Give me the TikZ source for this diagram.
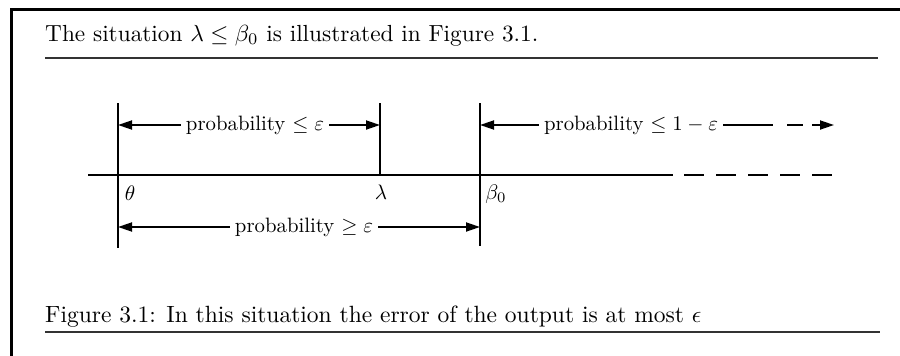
\documentclass[tikz,border=0pt]{standalone}
\usepackage{graphicx}
\usetikzlibrary{arrows.meta}
\begin{document}
\begin{tikzpicture}[x=1pt,y=-1pt,
  frameline/.style={line width=3pt,line cap=rect},
  rule/.style={line width=1.4pt,black!80},
  post/.style={line width=2.4pt},
  axisline/.style={line width=2pt},
  arr/.style={line width=1.8pt,-{Triangle[length=14pt,width=9pt]}},
  seg/.style={line width=1.8pt},
  txt/.style={inner sep=0pt,anchor=base west},
  lab/.style={inner sep=5pt},
  glab/.style={inner sep=0pt,anchor=base}]
\useasboundingbox (0,0) rectangle (900,356);
% frame
\coordinate (fTL) at (11,9);
\coordinate (fTR) at (900,9);
\coordinate (fBL) at (11,356);
\draw[frameline] (fTR) -- (fTL) -- (fBL);
% heading
\node[txt] (head) at (45,41) {\scalebox{2.33}{The situation $\lambda \leq \beta_0$ is illustrated in Figure 3.1.}};
\coordinate (hL) at (45,58);
\coordinate (hR) at (878,58);
\draw[rule] (hL) -- (hR);
% caption
\node[txt] (cap) at (45,322) {\scalebox{2.35}{Figure 3.1: In this situation the error of the output is at most $\epsilon$}};
\coordinate (cL) at (45,332);
\coordinate (cR) at (880,332);
\draw[rule] (cL) -- (cR);
% posts
\coordinate (thT) at (118,103);
\coordinate (thB) at (118,248);
\coordinate (laT) at (380,103);
\coordinate (laB) at (380,175);
\coordinate (beT) at (480,103);
\coordinate (beB) at (480,246);
\draw[post] (thT) -- (thB);
\draw[post] (laT) -- (laB);
\draw[post] (beT) -- (beB);
% axis
\coordinate (axL) at (88,175);
\coordinate (axM) at (673,175);
\coordinate (axD) at (684,175);
\coordinate (axR) at (833,175);
\draw[axisline] (axL) -- (axM);
\draw[axisline,dash pattern=on 20pt off 12pt] (axD) -- (axR);
% axis labels
\node[glab] (theta) at (130,200) {\scalebox{2.1}{$\theta$}};
\node[glab] (lambda) at (381,199) {\scalebox{2.1}{$\lambda$}};
\node[glab] (beta) at (496,199) {\scalebox{2.1}{$\beta_0$}};
% top arrow 1
\coordinate (a1L) at (118,125);
\coordinate (a1R) at (380,125);
\node[lab] (p1) at (255,125) {\scalebox{2.08}{probability $\leq \varepsilon$}};
\draw[arr] (p1) -- (a1L);
\draw[arr] (p1) -- (a1R);
% top arrow 2
\coordinate (a2L) at (480,125);
\coordinate (a2S) at (773,125);
\coordinate (a2D1) at (787,125);
\coordinate (a2D2) at (803,125);
\coordinate (a2A) at (812,125);
\coordinate (a2R) at (834,125);
\node[lab] (p2) at (631,125) {\scalebox{2.08}{probability $\leq 1-\varepsilon$}};
\draw[arr] (p2) -- (a2L);
\draw[seg] (p2) -- (a2S);
\draw[seg] (a2D1) -- (a2D2);
\draw[arr] (a2A) -- (a2R);
% bottom arrow
\coordinate (a3L) at (118,227);
\coordinate (a3R) at (480,227);
\node[lab] (p3) at (304,227) {\scalebox{2.08}{probability $\geq \varepsilon$}};
\draw[arr] (p3) -- (a3L);
\draw[arr] (p3) -- (a3R);
\end{tikzpicture}
\end{document}
